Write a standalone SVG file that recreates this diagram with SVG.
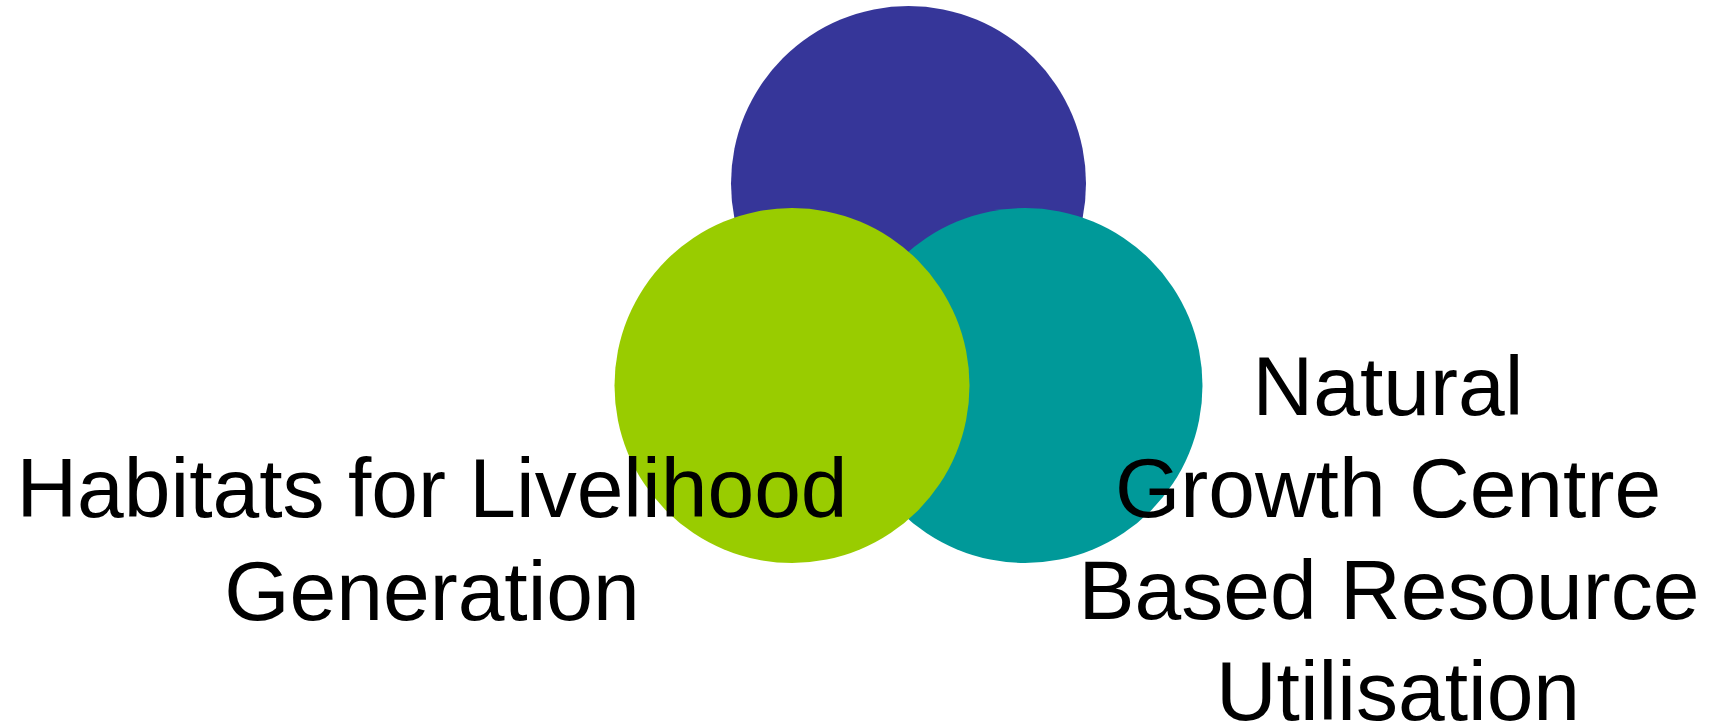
<svg xmlns="http://www.w3.org/2000/svg" width="1719" height="726" viewBox="0 0 1719 726">
  <style>
    .lbl { font-family: "Liberation Sans", Arial, sans-serif; font-size: 84px; fill: #000000; text-anchor: middle; }
  </style>
  <rect x="0" y="0" width="1719" height="726" fill="#ffffff"/>
  <g id="circle-top">
    <circle cx="908.5" cy="183.5" r="177.5" fill="#363699"/>
  </g>
  <g id="circle-right">
    <circle cx="1025" cy="385.5" r="177.5" fill="#009999"/>
  </g>
  <g id="circle-left">
    <circle cx="792" cy="385.5" r="177.5" fill="#99CC00"/>
  </g>
  <g id="connectors"></g>
  <g id="label-left">
    <text class="lbl" x="432" y="517">Habitats for Livelihood</text>
    <text class="lbl" x="432" y="620">Generation</text>
  </g>
  <g id="label-right">
    <text class="lbl" x="1388" y="415">Natural</text>
    <text class="lbl" x="1388" y="517">Growth Centre</text>
    <text class="lbl" x="1389" y="619">Based Resource</text>
    <text class="lbl" x="1398" y="720">Utilisation</text>
  </g>
</svg>
